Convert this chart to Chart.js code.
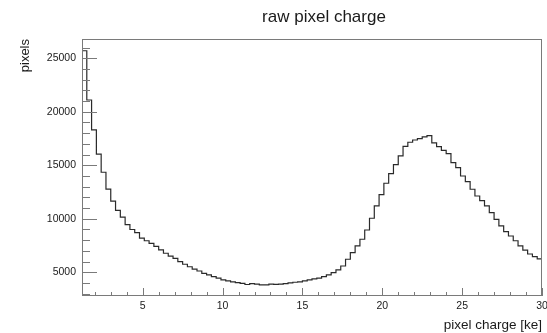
<!DOCTYPE html>
<html>
    <head>
        <title>raw pixel charge</title>
        <script src="https://cdn.jsdelivr.net/npm/chart.js@4.4.1/dist/chart.umd.min.js"></script>
        <style>
            body { margin: 0; background: #fff; }
            #wrap { width: 547px; height: 333px; }
        </style>
    </head>
    <body>
        <div id="wrap"><canvas id="chart" width="547" height="333"></canvas></div>

        <script>
            // histogram binning (ke)
            const binLow = 1.2
            const binWidth = 0.3
            // counts per bin
            const counts = [
                25700, 21100, 18300, 16050, 14350, 12780, 11650, 10780, 10150, 9450,
                9000, 8700, 8200, 7950, 7710, 7420, 7100, 6780, 6520, 6310,
                6000, 5750, 5520, 5290, 5120, 4900, 4750, 4600, 4450, 4300,
                4200, 4100, 4030, 3960, 3860, 3950, 3900, 3820, 3830, 3900,
                3880, 3890, 3950, 4020, 4070, 4100, 4200, 4300, 4380, 4450,
                4590, 4750, 4960, 5220, 5590, 6220, 6830, 7460, 8090, 8950,
                10050, 11200, 12250, 13320, 14220, 15060, 15880, 16770, 17150, 17360,
                17500, 17650, 17770, 17100, 16740, 16400, 16090, 15240, 14790, 14000,
                13470, 12760, 12130, 11690, 11200, 10570, 9950, 9330, 8800, 8390,
                7950, 7460, 7080, 6710, 6460, 6250,
            ]
            const xRange = [1.2, 30]
            const yRange = [2785, 26800]
            const xTicks = [5, 10, 15, 20, 25, 30]
            const yTicks = [5000, 10000, 15000, 20000, 25000]
            const xMinor = 1
            const yMinor = 1000

            const title = 'raw pixel charge'
            const xTitle = 'pixel charge [ke]'
            const yTitle = 'pixels'

            // step points at the low edge of each bin, plus the closing edge
            const points = counts.map((c, i) => ({ x: binLow + i * binWidth, y: c }))
            points.push({ x: binLow + counts.length * binWidth, y: counts[counts.length - 1] })

            const font = 'Liberation Sans'

            // ROOT style frame: box plus inward ticks, and the pad title
            const rootFrame = {
                id: 'rootFrame',
                afterDraw(chart) {
                    const { ctx, chartArea: a, scales: { x, y } } = chart
                    ctx.save()
                    ctx.strokeStyle = '#7a7a7a'
                    ctx.lineWidth = 1
                    ctx.strokeRect(a.left + 0.5, a.top + 0.5, a.width - 1, a.height - 1)
                    ctx.beginPath()
                    for (let v = Math.ceil(x.min / xMinor) * xMinor; v <= x.max; v += xMinor) {
                        const px = Math.round(x.getPixelForValue(v)) + 0.5
                        const len = xTicks.includes(v) ? 8 : 4
                        ctx.moveTo(px, a.bottom)
                        ctx.lineTo(px, a.bottom - len)
                    }
                    for (let v = Math.ceil(y.min / yMinor) * yMinor; v <= y.max; v += yMinor) {
                        const py = Math.round(y.getPixelForValue(v)) + 0.5
                        const len = yTicks.includes(v) ? 15 : 8
                        ctx.moveTo(a.left, py)
                        ctx.lineTo(a.left + len, py)
                    }
                    ctx.stroke()
                    ctx.fillStyle = '#1a1a1a'
                    ctx.font = '17px "' + font + '"'
                    ctx.textAlign = 'center'
                    ctx.textBaseline = 'middle'
                    ctx.fillText(title, (a.left + a.right) / 2 + 12, 17)
                    ctx.restore()
                },
            }

            const chart = new Chart('chart', {
                type: 'line',
                data: {
                    datasets: [
                        {
                            data: points,
                            borderColor: '#2a2a2a',
                            borderWidth: 1.2,
                            pointRadius: 0,
                            fill: false,
                            stepped: true,
                        },
                    ],
                },
                options: {
                    responsive: false,
                    animation: false,
                    events: [],
                    layout: { padding: { left: 0, right: 5, top: 39, bottom: 0 } },
                    plugins: {
                        legend: { display: false },
                        tooltip: { enabled: false },
                    },
                    scales: {
                        x: {
                            type: 'linear',
                            min: xRange[0],
                            max: xRange[1],
                            grid: { display: false, drawTicks: false },
                            border: { display: false },
                            afterBuildTicks: s => { s.ticks = xTicks.map(v => ({ value: v })) },
                            ticks: {
                                autoSkip: false,
                                maxRotation: 0,
                                padding: 4,
                                color: '#1a1a1a',
                                font: { family: font, size: 10.5 },
                                callback: v => String(v),
                            },
                            title: {
                                display: true,
                                text: xTitle,
                                align: 'end',
                                color: '#1a1a1a',
                                font: { family: font, size: 13.5 },
                                padding: { top: 0, bottom: 0 },
                            },
                            afterFit: s => {
                                s.height = 37
                                s.paddingLeft = 0
                                s.paddingRight = 0
                            },
                        },
                        y: {
                            type: 'linear',
                            min: yRange[0],
                            max: yRange[1],
                            grid: { display: false, drawTicks: false },
                            border: { display: false },
                            afterBuildTicks: s => { s.ticks = yTicks.map(v => ({ value: v })) },
                            ticks: {
                                autoSkip: false,
                                padding: 6,
                                color: '#1a1a1a',
                                font: { family: font, size: 10.5 },
                                callback: v => String(v),
                            },
                            title: {
                                display: true,
                                text: yTitle,
                                align: 'end',
                                color: '#1a1a1a',
                                font: { family: font, size: 13 },
                                padding: { top: 18, bottom: 0 },
                            },
                            afterFit: s => { s.width = 82 },
                        },
                    },
                },
                plugins: [rootFrame],
            })
        </script>
    </body>
</html>
